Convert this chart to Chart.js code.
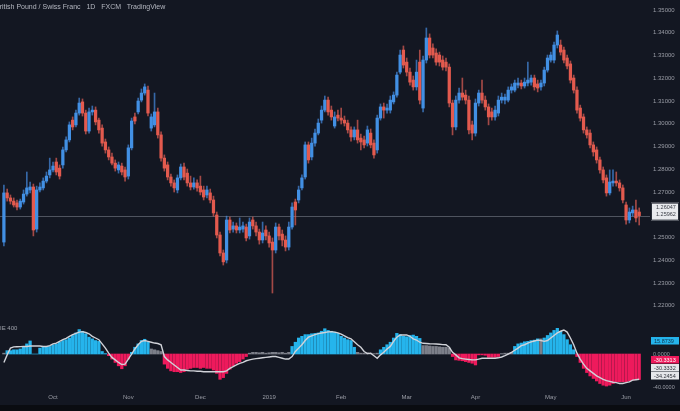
<!DOCTYPE html>
<html><head><meta charset="utf-8">
<script src="https://cdn.jsdelivr.net/npm/chart.js@4.4.1/dist/chart.umd.min.js"></script>
<style>
html,body{margin:0;padding:0;background:#131722;width:680px;height:411px;overflow:hidden;position:relative;font-family:"Liberation Sans",Arial,sans-serif;}
#main{position:absolute;left:0;top:0;}
#osc{position:absolute;left:0;top:322px;}
#title{position:absolute;left:-5px;top:3px;font-size:7px;color:#b4b7c0;white-space:pre;}
#oscLabel{position:absolute;left:0;top:325px;font-size:6px;color:#9ea1aa;white-space:pre;}
#strip{position:absolute;left:0;top:405px;width:680px;height:6px;background:#0a0c11;}
</style></head><body>
<canvas id="main" width="680" height="322"></canvas>
<canvas id="osc" width="680" height="83"></canvas>
<div id="title">British Pound / Swiss Franc   1D   FXCM   TradingView</div>
<div id="oscLabel">IE 400</div>
<div id="strip"></div>
<script>
// ---- data (daily GBP/CHF, Sep 2018 – Jun 2019) ----
const opens = [
1.2480,1.2696,1.2674,1.2660,1.2652,1.2634,1.2656,1.2691,1.2709,1.2722,
1.2537,1.2709,1.2718,1.2748,1.2775,1.2797,1.2832,1.2805,1.2819,1.2885,
1.2929,1.3016,1.2995,1.3047,1.3096,1.3047,1.2968,1.3052,1.3060,1.3016,
1.2981,1.2920,1.2885,1.2854,1.2827,1.2797,1.2814,1.2797,1.2770,1.2894,
1.3030,1.3052,1.3104,1.3135,1.3148,1.2981,1.2995,1.3052,1.2951,1.2849,
1.2819,1.2766,1.2740,1.2709,1.2762,1.2810,1.2783,1.2740,1.2722,1.2740,
1.2726,1.2709,1.2687,1.2696,1.2665,1.2599,1.2511,1.2432,1.2401,1.2577,
1.2537,1.2551,1.2533,1.2537,1.2546,1.2507,1.2577,1.2551,1.2524,1.2489,
1.2533,1.2507,1.2480,1.2445,1.2546,1.2515,1.2489,1.2458,1.2546,1.2656,
1.2665,1.2718,1.2766,1.2907,1.2854,1.2915,1.2959,1.3016,1.3060,1.3104,
1.3060,1.2990,1.3038,1.3025,1.3016,1.3003,1.2973,1.2942,1.2973,1.2937,
1.2929,1.2915,1.2959,1.2915,1.2885,1.3025,1.3074,1.3060,1.3060,1.3096,
1.3126,1.3227,1.3324,1.3271,1.3227,1.3192,1.3162,1.3271,1.3069,1.3280,
1.3377,1.3333,1.3311,1.3302,1.3280,1.3271,1.3249,1.3091,1.2986,1.3104,
1.3135,1.3126,1.3104,1.2995,1.2959,1.3091,1.3135,1.3104,1.3074,1.3052,
1.3030,1.3047,1.3104,1.3104,1.3104,1.3148,1.3148,1.3170,1.3179,1.3166,
1.3179,1.3183,1.3201,1.3175,1.3162,1.3179,1.3236,1.3280,1.3280,1.3346,
1.3346,1.3324,1.3289,1.3263,1.3201,1.3148,1.3069,1.3030,1.2973,1.2959,
1.2907,1.2885,1.2841,1.2797,1.2762,1.2696,1.2740,1.2748,1.2740,1.2718,
1.2643,1.2577,1.2608,1.2621,1.2612];
const highs = [
1.2731,1.2713,1.2687,1.2674,1.2665,1.2669,1.2709,1.2788,1.2744,1.2735,
1.2726,1.2740,1.2762,1.2788,1.2849,1.2832,1.2849,1.2819,1.2898,1.2942,
1.3008,1.3030,1.3060,1.3113,1.3109,1.3060,1.3069,1.3078,1.3074,1.3025,
1.2995,1.2933,1.2898,1.2871,1.2841,1.2832,1.2827,1.2810,1.2907,1.3025,
1.3047,1.3113,1.3153,1.3175,1.3166,1.3043,1.3135,1.3069,1.2964,1.2863,
1.2832,1.2779,1.2753,1.2775,1.2823,1.2827,1.2801,1.2770,1.2762,1.2753,
1.2770,1.2726,1.2726,1.2713,1.2682,1.2612,1.2524,1.2445,1.2594,1.2590,
1.2568,1.2564,1.2586,1.2568,1.2559,1.2586,1.2590,1.2568,1.2537,1.2568,
1.2551,1.2524,1.2498,1.2564,1.2559,1.2533,1.2507,1.2568,1.2652,1.2669,
1.2726,1.2775,1.2920,1.2920,1.2937,1.2977,1.3021,1.3078,1.3122,1.3117,
1.3078,1.3052,1.3060,1.3069,1.3034,1.3016,1.2986,1.2986,1.3016,1.2955,
1.2946,1.2990,1.2977,1.2929,1.3038,1.3087,1.3091,1.3087,1.3122,1.3140,
1.3227,1.3324,1.3342,1.3289,1.3245,1.3210,1.3280,1.3324,1.3298,1.3421,
1.3395,1.3351,1.3329,1.3315,1.3298,1.3289,1.3263,1.3104,1.3122,1.3157,
1.3201,1.3148,1.3122,1.3012,1.3109,1.3148,1.3192,1.3122,1.3087,1.3069,
1.3078,1.3122,1.3135,1.3131,1.3162,1.3175,1.3192,1.3201,1.3192,1.3201,
1.3271,1.3214,1.3214,1.3192,1.3192,1.3249,1.3302,1.3315,1.3359,1.3408,
1.3368,1.3337,1.3302,1.3276,1.3214,1.3162,1.3082,1.3043,1.2986,1.2973,
1.2920,1.2898,1.2854,1.2810,1.2775,1.2797,1.2797,1.2788,1.2753,1.2731,
1.2656,1.2630,1.2638,1.2665,1.2630];
const lows = [
1.2463,1.2660,1.2647,1.2634,1.2621,1.2625,1.2647,1.2682,1.2696,1.2507,
1.2524,1.2700,1.2709,1.2740,1.2762,1.2788,1.2775,1.2757,1.2805,1.2876,
1.2920,1.2973,1.2986,1.3038,1.3034,1.2955,1.2959,1.3038,1.2995,1.2959,
1.2902,1.2871,1.2841,1.2819,1.2792,1.2783,1.2775,1.2748,1.2757,1.2885,
1.2999,1.3043,1.3096,1.3126,1.3034,1.2968,1.2986,1.2937,1.2836,1.2792,
1.2753,1.2726,1.2700,1.2696,1.2753,1.2753,1.2726,1.2709,1.2713,1.2704,
1.2687,1.2665,1.2674,1.2652,1.2594,1.2498,1.2419,1.2379,1.2388,1.2520,
1.2524,1.2520,1.2520,1.2524,1.2485,1.2493,1.2537,1.2507,1.2471,1.2476,
1.2489,1.2458,1.2256,1.2432,1.2489,1.2463,1.2441,1.2445,1.2537,1.2555,
1.2652,1.2709,1.2757,1.2827,1.2841,1.2902,1.2951,1.3003,1.3052,1.3038,
1.3016,1.2981,1.3012,1.2999,1.2990,1.2959,1.2924,1.2929,1.2915,1.2885,
1.2894,1.2902,1.2894,1.2849,1.2871,1.3016,1.3025,1.3047,1.3047,1.3087,
1.3117,1.3219,1.3245,1.3210,1.3170,1.3148,1.3148,1.3087,1.3052,1.3267,
1.3289,1.3289,1.3258,1.3254,1.3236,1.3232,1.3074,1.2951,1.2973,1.3091,
1.3104,1.3087,1.2955,1.2929,1.2946,1.3078,1.3091,1.3060,1.2995,1.3016,
1.3016,1.3034,1.3091,1.3087,1.3096,1.3135,1.3140,1.3157,1.3153,1.3157,
1.3166,1.3170,1.3148,1.3140,1.3148,1.3166,1.3227,1.3271,1.3267,1.3333,
1.3302,1.3267,1.3241,1.3179,1.3135,1.3047,1.3012,1.2959,1.2937,1.2894,
1.2858,1.2827,1.2783,1.2740,1.2682,1.2687,1.2726,1.2726,1.2704,1.2652,
1.2559,1.2564,1.2594,1.2568,1.2555];
const closes = [
1.2696,1.2674,1.2660,1.2643,1.2634,1.2660,1.2691,1.2718,1.2722,1.2533,
1.2709,1.2722,1.2748,1.2770,1.2797,1.2814,1.2788,1.2770,1.2885,1.2929,
1.2995,1.2986,1.3047,1.3091,1.3047,1.2968,1.3052,1.3060,1.3008,1.2973,
1.2915,1.2885,1.2854,1.2827,1.2805,1.2819,1.2788,1.2766,1.2894,1.3012,
1.3012,1.3100,1.3135,1.3162,1.3047,1.3030,1.3052,1.2951,1.2849,1.2805,
1.2766,1.2740,1.2718,1.2762,1.2810,1.2766,1.2740,1.2722,1.2740,1.2718,
1.2700,1.2678,1.2709,1.2665,1.2608,1.2511,1.2432,1.2393,1.2577,1.2533,
1.2551,1.2533,1.2546,1.2551,1.2498,1.2568,1.2551,1.2524,1.2489,1.2520,
1.2507,1.2476,1.2445,1.2546,1.2507,1.2489,1.2458,1.2546,1.2634,1.2621,
1.2709,1.2762,1.2907,1.2841,1.2915,1.2959,1.3003,1.3060,1.3104,1.3052,
1.3030,1.3030,1.3025,1.3016,1.3003,1.2973,1.2942,1.2973,1.2929,1.2920,
1.2907,1.2973,1.2907,1.2863,1.3025,1.3074,1.3060,1.3069,1.3104,1.3126,
1.3214,1.3302,1.3258,1.3227,1.3183,1.3162,1.3227,1.3104,1.3280,1.3377,
1.3302,1.3302,1.3271,1.3271,1.3249,1.3249,1.3091,1.2986,1.3104,1.3135,
1.3117,1.3104,1.2973,1.2959,1.3091,1.3135,1.3104,1.3074,1.3030,1.3030,
1.3060,1.3104,1.3117,1.3117,1.3148,1.3162,1.3179,1.3179,1.3166,1.3183,
1.3192,1.3201,1.3162,1.3157,1.3179,1.3236,1.3289,1.3302,1.3346,1.3390,
1.3315,1.3280,1.3254,1.3192,1.3148,1.3060,1.3025,1.2973,1.2951,1.2907,
1.2876,1.2841,1.2797,1.2753,1.2696,1.2744,1.2748,1.2740,1.2718,1.2665,
1.2577,1.2612,1.2621,1.2586,1.25962];
const histogram = [
1,4,4,5,5,6,9,12,15.5,0,
0,7,8,8.5,9,11,12,14,16,17,
19,22,25,29,27,24,20,18,16,15,
3,0.5,-2,-6,-10,-14,-17.5,-14,-6,2,
8,12,16,17.5,14,6,5,4,3,-12,
-17,-20,-21,-21,-22,-21,-18,-17,-16,-16,
-17,-16,-17,-17,-19,-23,-30,-28,-23,-18,
-14,-11,-9,-6,-3,1,2,2,1.5,2,
1,1.5,2,2,1.5,2,1,2,9,14,
19,21,23,23,24,24.5,25,27,30,28,
27,26,24.5,21,19,17,16,8,2,1,
1,1.5,1,0.5,1,5,8,11,14,19,
24.5,23,21,20.5,22,22.5,21,18.5,10,10,
9.5,9,9,8.5,8,8,7,-3,-7,-7.5,
-8,-9,-10,-11,-13,-1,-1,-1.5,-4,-4,
-4,-3,0.5,1,1,2,9,12,13,14.5,
15,16,16.5,18,18,19,22,25,28,30.5,
27,23,17,11,5,-3,-10,-17,-22,-26,
-29,-32,-35,-37,-38,-37,-35,-33,-33,-33,
-33,-32,-31,-30,-30.3];
const signal = [
-10,-1,7,8.5,8.7,8.8,9,9,9.5,9.5,
9.5,9.5,9,9,10,12,13,15,17,18.5,
21,23,24.6,26,26.6,25.5,24,21,19,17,
12,7,1,-4,-7,-10,-12.5,-12,-6,0,
6,11,15,16,15,14,13,12.5,11,-3,
-7,-10,-13,-16,-19,-19,-19.5,-20,-20,-20.5,
-20.5,-21,-21,-21,-21,-21,-21,-21,-20,-17,
-15,-13,-11,-10,-8,-7,-6,-5.5,-5,-4.5,
-4,-3.5,-3,-3,-4,-5,-6,-6,-3,3,
7,11,16,20,21.5,23,24.2,25,25.5,26.3,
26.6,26,25,23.5,21.5,19.5,18,14.5,11,8,
3,0.5,1,-2,-5,-1,2,6,9,15,
20,22.6,22.6,22.6,21,18,16.6,14,12.7,12.5,
12.2,12,11.8,11.5,11.2,11,8,2,-1,-4.5,
-5.5,-6,-6.5,-7,-7,-6,-5,-5,-5,-5,
-5,-4.5,-3.5,-2,0,2,4.5,7,10,11,
13,14.5,15.5,16.5,16,15,16,19,22,25,
27,28.5,26,19,11,1,-6,-12,-17,-20,
-23,-26,-28,-30,-31.5,-32.5,-33.5,-34,-35,-35,
-34,-33,-31,-30.5,-30];
const greySpans = [[0,0],[45,48],[75,87],[108,114],[128,136],[152,155],[164,164]];
const monthTicks = [15,38,60,81,103,123,144,167,190];
const monthLabels = ['Oct','Nov','Dec','2019','Feb','Mar','Apr','May','Jun'];
const priceTicks = [1.22,1.23,1.24,1.25,1.26,1.27,1.28,1.29,1.30,1.31,1.32,1.33,1.34,1.35];
const oscTicks = [-40,0];
const bidPrice = 1.26047;
const oscValueLabels = ['15.8739','-30.3313','-30.3332','-34.2454'];

// ---- style ----
const UP = '#4290e4', DOWN = '#e35a4e';
const UPW = 'rgba(70,140,225,0.7)', DOWNW = 'rgba(225,95,85,0.7)';
const CYAN = '#25b4ec', PINK = '#ee1a5c', GREY = '#7c7f89';
const TICK = '#9a9da6';
const X_MIN = -1.19, X_MAX = 197.3;
Chart.defaults.font.family = '"Liberation Sans", Arial, sans-serif';
Chart.defaults.animation = false;

const idx = closes.map((_, i) => i);
const isUp = i => closes[i] >= opens[i];
const inGrey = i => greySpans.some(s => i >= s[0] && i <= s[1]);

const noPad = s => { s.paddingTop = 0; s.paddingBottom = 0; s.paddingLeft = 0; s.paddingRight = 0; };

const lastLine = {
  id: 'lastLine',
  beforeDatasetsDraw(chart) {
    const {ctx, chartArea, scales} = chart;
    const y = Math.round(scales.y.getPixelForValue(closes[closes.length - 1])) + 0.5;
    ctx.save();
    ctx.strokeStyle = 'rgba(130,134,145,0.55)';
    ctx.lineWidth = 1;
    ctx.beginPath(); ctx.moveTo(chartArea.left, y); ctx.lineTo(chartArea.right, y); ctx.stroke();
    ctx.restore();
  },
  afterDraw(chart) {
    const {ctx, chartArea, scales} = chart;
    const y = scales.y.getPixelForValue(closes[closes.length - 1]);
    ctx.save();
    ctx.fillStyle = '#e9eaee';
    ctx.fillRect(chartArea.right + 1, y - 13, 28, 18);
    ctx.strokeStyle = '#2a2e39'; ctx.lineWidth = 1;
    ctx.strokeRect(chartArea.right + 1.5, y - 12.5, 27, 17);
    ctx.fillStyle = '#3a3d46';
    ctx.font = '5.5px "Liberation Sans", Arial, sans-serif';
    ctx.textBaseline = 'middle'; ctx.textAlign = 'left';
    ctx.fillText(bidPrice.toFixed(5), chartArea.right + 6, y - 8);
    ctx.fillText(closes[closes.length - 1].toFixed(5), chartArea.right + 6, y - 1);
    ctx.restore();
  }
};

new Chart(document.getElementById('main'), {
  type: 'bar',
  data: {
    datasets: [
      { data: idx.map(i => ({x: i, y: [opens[i], closes[i]]})),
        backgroundColor: c => isUp(c.dataIndex) ? UP : DOWN,
        barThickness: 2.6, grouped: false, minBarLength: 1, borderWidth: 0 },
      { data: idx.map(i => ({x: i, y: [lows[i], highs[i]]})),
        backgroundColor: c => isUp(c.dataIndex) ? UPW : DOWNW,
        barThickness: 1, grouped: false, borderWidth: 0 }
    ]
  },
  options: {
    responsive: false, devicePixelRatio: 1,
    layout: { padding: 0 },
    plugins: { legend: {display: false}, tooltip: {enabled: false} },
    scales: {
      x: { type: 'linear', min: X_MIN, max: X_MAX, offset: false, display: false },
      y: { position: 'right', min: 1.21286, max: 1.35440,
        grid: {display: false, drawTicks: false}, border: {display: false},
        afterBuildTicks: s => { s.ticks = priceTicks.map(v => ({value: v})); },
        afterFit: s => { s.width = 30; noPad(s); },
        ticks: { color: TICK, font: {size: 6}, padding: 3, callback: v => Number(v).toFixed(5) } }
    }
  },
  plugins: [lastLine]
});

const oscBoxes = {
  id: 'oscBoxes',
  afterDraw(chart) {
    const {ctx, chartArea, scales} = chart;
    const z = scales.y.getPixelForValue(0);
    const x = chartArea.right + 1;
    const boxes = [
      {top: z - 17, bg: CYAN, fg: '#10324a', t: oscValueLabels[0]},
      {top: z + 2, bg: PINK, fg: '#ffffff', t: oscValueLabels[1]},
      {top: z + 10, bg: '#e6e7eb', fg: '#30333c', t: oscValueLabels[2]},
      {top: z + 18, bg: '#e6e7eb', fg: '#30333c', t: oscValueLabels[3]}
    ];
    ctx.save();
    ctx.font = '5.5px "Liberation Sans", Arial, sans-serif';
    ctx.textBaseline = 'middle'; ctx.textAlign = 'left';
    boxes.forEach(b => {
      ctx.fillStyle = b.bg; ctx.fillRect(x, b.top, 28, 7.5);
      ctx.fillStyle = b.fg; ctx.fillText(b.t, x + 3, b.top + 4);
    });
    ctx.restore();
  }
};

new Chart(document.getElementById('osc'), {
  type: 'bar',
  data: {
    datasets: [
      { type: 'line', data: idx.map(i => ({x: i, y: signal[i]})),
        borderColor: '#d0d2d8', borderWidth: 1.4, pointRadius: 0, tension: 0, fill: false },
      { data: idx.map(i => ({x: i, y: histogram[i]})),
        backgroundColor: c => inGrey(c.dataIndex) ? GREY : (histogram[c.dataIndex] >= 0 ? CYAN : PINK),
        barThickness: 2.6, grouped: false, borderWidth: 0 }
    ]
  },
  options: {
    responsive: false, devicePixelRatio: 1,
    layout: { padding: {top: 1} },
    plugins: { legend: {display: false}, tooltip: {enabled: false} },
    scales: {
      x: { type: 'linear', min: X_MIN, max: X_MAX, offset: false,
        grid: {display: false, drawTicks: false}, border: {display: false},
        afterBuildTicks: s => { s.ticks = monthTicks.map(v => ({value: v})); },
        afterFit: s => { s.height = 15; noPad(s); },
        ticks: { color: TICK, font: {size: 6}, padding: 4, autoSkip: false, maxRotation: 0,
          callback: v => monthLabels[monthTicks.indexOf(v)] } },
      y: { position: 'right', min: -42.7, max: 36.8,
        grid: {display: false, drawTicks: false}, border: {display: false},
        afterBuildTicks: s => { s.ticks = oscTicks.map(v => ({value: v})); },
        afterFit: s => { s.width = 30; noPad(s); },
        ticks: { color: TICK, font: {size: 5.5}, padding: 3, callback: v => Number(v).toFixed(4) } }
    }
  },
  plugins: [oscBoxes]
});
</script>
</body></html>
